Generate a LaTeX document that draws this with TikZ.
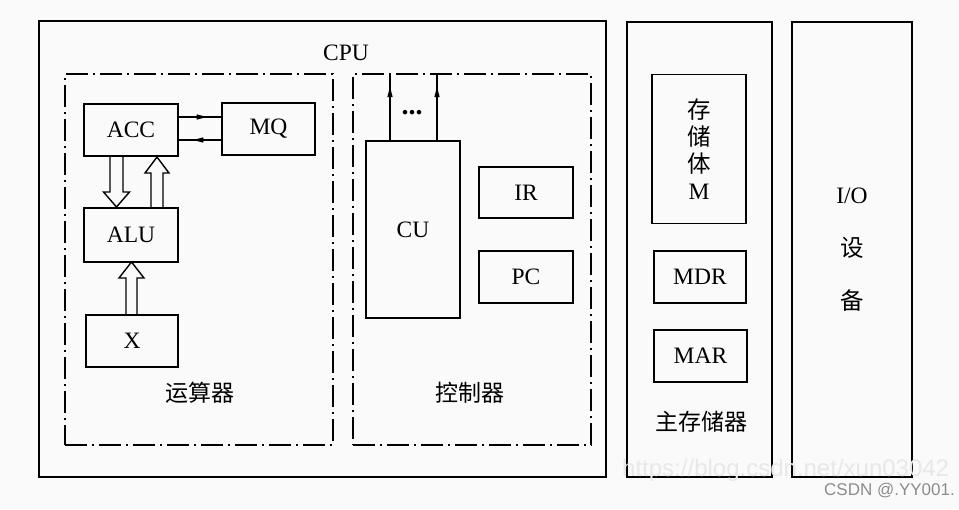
\documentclass[tikz,border=0pt]{standalone}
\usepackage{fontspec}
\setmainfont{Liberation Serif}
\newfontfamily\cjk{Noto Sans CJK SC}
\newfontfamily\wmfont{Liberation Sans}
\usetikzlibrary{arrows.meta,decorations.markings,calc}
\begin{document}
\begin{tikzpicture}[x=1pt,y=-1pt,
  box/.style={draw, line width=1.9pt, inner sep=0pt, outer sep=0pt, font=\fontsize{23.5}{25}\selectfont},
  region/.style={draw, line width=1.4pt, inner sep=0pt, outer sep=0pt, dash pattern=on 22pt off 5pt on 2pt off 5pt},
  lbl/.style={font=\cjk\fontsize{23}{25}\selectfont, inner sep=0pt},
  latin/.style={font=\fontsize{23.5}{25}\selectfont, inner sep=0pt},
  hollow/.style={draw, line width=1.4pt, line join=miter},
  wire/.style={line width=1.3pt, postaction=decorate,
    decoration={markings, mark=at position #1 with {\arrow{Latex[length=13pt,width=5.5pt]}}}},
  wire/.default=0.65
]
\fill[black!2] (0,0) rectangle (959,509);
\useasboundingbox (0,0) rectangle (959,509);

% big boxes
\node[box, minimum width=567pt, minimum height=456pt] (cpu) at (322.5,249) {};
\node[box, minimum width=145pt, minimum height=455pt] (mem) at (699.5,249.5) {};
\node[box, minimum width=120pt, minimum height=455pt] (io) at (852,249.5) {};

% regions
\node[region, minimum width=268pt, minimum height=371pt] (alubox) at (199,259.5) {};
\node[region, minimum width=238pt, minimum height=371pt] (ctrl) at (472,259.5) {};

% labels
\node[latin] (cpulbl) at (346,53) {CPU};
\node[lbl] (alulbl) at (200,393) {运算器};
\node[lbl] (ctrllbl) at (470,393) {控制器};
\node[lbl] (memlbl) at (701,422) {主存储器};
\node[latin, align=center, font=\fontsize{23.5}{53}\selectfont] (iolbl) at (852,250) {I/O\\{\cjk 设}\\{\cjk 备}};

% arithmetic unit
\node[box, minimum width=94pt, minimum height=52pt] (acc) at (131,130) {ACC};
\node[box, minimum width=93pt, minimum height=52pt] (mq) at (268.5,129) {MQ};
\node[box, minimum width=94pt, minimum height=54pt] (alu) at (131,235) {ALU};
\node[box, minimum width=92pt, minimum height=52pt] (xr) at (132,341) {X};

\coordinate (t1) at ([yshift=13pt]acc.east);
\coordinate (t2) at ([yshift=-10pt]acc.east);
\draw[wire=0.72] (t1) -- (t1 -| mq.west);
\draw[wire=0.72] (t2 -| mq.west) -- (t2);

\draw[hollow] ([xshift=-21pt]acc.south) -- ++(0,36) -- ++(-6.5,0) -- ++(13,15) -- ++(13,-15) -- ++(-6.5,0) -- ++(0,-36);
\draw[hollow] ([xshift=20pt]alu.north) -- ++(0,-35) -- ++(-6,0) -- ++(12,-16) -- ++(12,16) -- ++(-6,0) -- ++(0,35);
\draw[hollow] ([xshift=-6pt]xr.north) -- ++(0,-37) -- ++(-7,0) -- ++(12.5,-16) -- ++(12.5,16) -- ++(-7,0) -- ++(0,37);

% control unit
\node[box, minimum width=94pt, minimum height=177pt] (cu) at (413,229.5) {CU};
\node[box, minimum width=94pt, minimum height=51pt] (ir) at (526,192.5) {IR};
\node[box, minimum width=94pt, minimum height=52pt] (pc) at (526,277) {PC};
\coordinate (c1) at ([xshift=24pt]cu.north west);
\coordinate (c2) at ([xshift=71pt]cu.north west);
\draw[wire=0.85] (c1) -- (c1 |- ctrl.north);
\draw[wire=0.85] (c2) -- (c2 |- ctrl.north);
\node[latin, font=\bfseries\fontsize{28}{30}\selectfont] (dots) at (412,113) {...};

% main memory
\node[box, minimum width=94pt, minimum height=149pt, align=center, font=\fontsize{23.5}{27}\selectfont] (stor) at (699,149) {{\cjk 存}\\{\cjk 储}\\{\cjk 体}\\M};
\node[box, minimum width=92pt, minimum height=52pt] (mdr) at (700,277) {MDR};
\node[box, minimum width=93pt, minimum height=52pt] (mar) at (700.5,356) {MAR};

% watermarks
\node[anchor=west, inner sep=0pt, text=black!9, font=\wmfont\fontsize{24}{26}\selectfont] (wm1) at (622,470) {https://blog.csdn.net/xun03042};
\node[anchor=east, inner sep=0pt, text=black!45, font=\wmfont\fontsize{17}{19}\selectfont] (wm2) at (955,491) {CSDN @.YY001.};
\end{tikzpicture}
\end{document}
